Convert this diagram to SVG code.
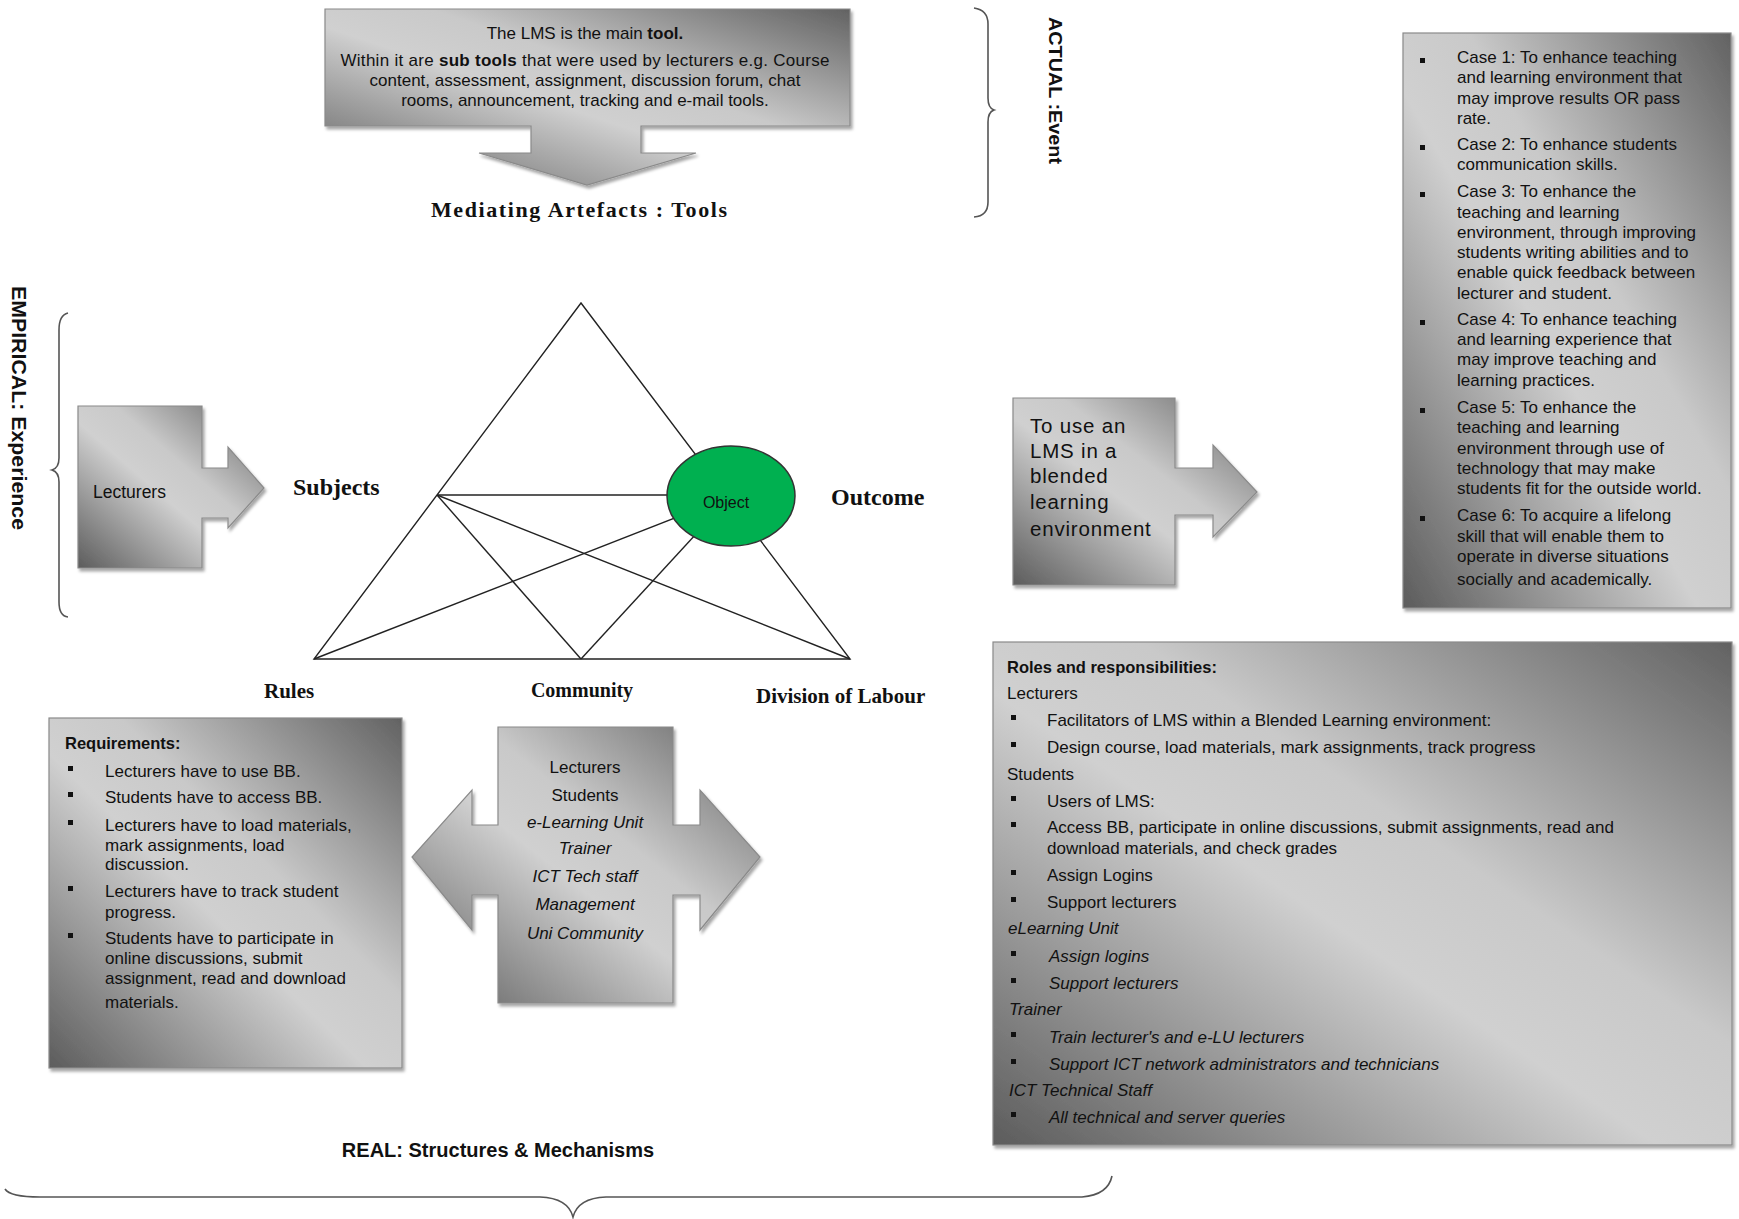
<svg xmlns="http://www.w3.org/2000/svg" width="1739" height="1219" viewBox="0 0 1739 1219">
<defs>
<linearGradient id="g" x1="0" y1="1" x2="1" y2="0">
<stop offset="0" stop-color="#5c5c5c"/>
<stop offset="0.45" stop-color="#d0d0d0"/>
<stop offset="0.6" stop-color="#c9c9c9"/>
<stop offset="1" stop-color="#626262"/>
</linearGradient>
<filter id="sh" x="-5%" y="-5%" width="115%" height="115%">
<feDropShadow dx="2" dy="3" stdDeviation="1.5" flood-color="#000" flood-opacity="0.35"/>
</filter>
<style>
.box{fill:url(#g);stroke:#8a8a8a;stroke-width:1.2;filter:url(#sh)}
.t{font-family:"Liberation Sans",Arial,sans-serif;font-size:17px;fill:#111}
.b{font-weight:bold}
.i{font-style:italic}
.s{font-family:"Liberation Serif","Times New Roman",serif;font-weight:bold;fill:#111}
.ln{stroke:#222;stroke-width:1.4;fill:none}
.br{stroke:#555;stroke-width:1.6;fill:none}
.bu{fill:#111}
</style>
</defs>
<rect width="1739" height="1219" fill="#fff"/>

<g id="connectors">
<polygon class="ln" points="581,303 314,659 850,659"/>
<line class="ln" x1="437" y1="495" x2="700" y2="495"/>
<line class="ln" x1="437" y1="495" x2="581" y2="659"/>
<line class="ln" x1="437" y1="495" x2="850" y2="659"/>
<line class="ln" x1="314" y1="659" x2="731" y2="496"/>
<line class="ln" x1="581" y1="659" x2="731" y2="496"/>
</g>

<g id="object">
<ellipse cx="731" cy="496" rx="64" ry="50" fill="#00b050" stroke="#333" stroke-width="1.5"/>
<text class="t" x="726" y="508" text-anchor="middle" style="font-size:16px">Object</text>
</g>

<g id="tool">
<path class="box" d="M325 9 H850 V126 H641 V153 H696 L587 185 L479 153 H531 V126 H325 Z"/>
<text class="t" x="585" y="39" text-anchor="middle">The LMS is the main <tspan class="b">tool.</tspan></text>
<text class="t" x="585" y="66" text-anchor="middle" textLength="489" lengthAdjust="spacing">Within it are <tspan class="b">sub tools</tspan> that were used by lecturers e.g. Course</text>
<text class="t" x="585" y="86" text-anchor="middle">content, assessment, assignment, discussion forum, chat</text>
<text class="t" x="585" y="106" text-anchor="middle">rooms, announcement, tracking and e-mail tools.</text>
</g>
<text class="s" x="579" y="217" text-anchor="middle" font-size="22" textLength="296" lengthAdjust="spacing">Mediating Artefacts : Tools</text>

<g id="actual">
<path class="br" d="M974 8 Q988 10 988 24 L988 98 Q988 108 994 110 Q988 112 988 122 L988 202 Q988 216 974 217"/>
<text class="t b" transform="translate(1049,17) rotate(90)" style="font-size:19px" textLength="147" lengthAdjust="spacingAndGlyphs">ACTUAL :Event</text>
</g>

<g id="empirical">
<path class="br" d="M68 313 Q59 315 59 330 L59 458 Q59 468 52 470 Q59 472 59 482 L59 602 Q59 616 68 617"/>
<text class="t" transform="translate(12,286) rotate(90)" style="font-size:21px;font-weight:bold" textLength="244" lengthAdjust="spacingAndGlyphs">EMPIRICAL: Experience</text>
</g>

<g id="lecturers">
<path class="box" d="M78 406 H202 V468 H228 V447 L264 488 L228 528 V518 H202 V568 H78 Z"/>
<text class="t" x="93" y="498" style="font-size:17.5px">Lecturers</text>
</g>

<text class="s" x="293" y="495" font-size="24">Subjects</text>
<text class="s" x="831" y="505" font-size="24">Outcome</text>
<text class="s" x="264" y="698" font-size="21">Rules</text>
<text class="s" x="582" y="697" font-size="20" text-anchor="middle">Community</text>
<text class="s" x="756" y="703" font-size="21">Division of Labour</text>

<g id="objective">
<path class="box" d="M1013 398 H1175 V468 H1213 V445 L1257 492 L1213 537 V515 H1175 V585 H1013 Z"/>
<g class="t" style="font-size:20.5px" letter-spacing="0.8">
<text x="1030" y="433">To use an</text>
<text x="1030" y="458">LMS in a</text>
<text x="1030" y="483">blended</text>
<text x="1030" y="509">learning</text>
<text x="1030" y="536">environment</text>
</g>
</g>

<g id="cases">
<rect class="box" x="1403" y="33" width="328" height="575"/>
<g class="bu">
<rect x="1420" y="58" width="5" height="5"/>
<rect x="1420" y="145" width="5" height="5"/>
<rect x="1420" y="192" width="5" height="5"/>
<rect x="1420" y="320" width="5" height="5"/>
<rect x="1420" y="408" width="5" height="5"/>
<rect x="1420" y="516" width="5" height="5"/>
</g>
<g class="t">
<text x="1457" y="63">Case 1: To enhance teaching</text>
<text x="1457" y="83">and learning environment that</text>
<text x="1457" y="104">may improve results OR pass</text>
<text x="1457" y="124">rate.</text>
<text x="1457" y="150">Case 2: To enhance students</text>
<text x="1457" y="170">communication  skills.</text>
<text x="1457" y="197">Case 3: To enhance the</text>
<text x="1457" y="218">teaching and learning</text>
<text x="1457" y="238">environment, through improving</text>
<text x="1457" y="258">students writing abilities and to</text>
<text x="1457" y="278">enable quick feedback between</text>
<text x="1457" y="299">lecturer and student.</text>
<text x="1457" y="325">Case 4: To enhance teaching</text>
<text x="1457" y="345">and learning experience that</text>
<text x="1457" y="365">may improve teaching and</text>
<text x="1457" y="386">learning practices.</text>
<text x="1457" y="413">Case 5: To enhance the</text>
<text x="1457" y="433">teaching and learning</text>
<text x="1457" y="454">environment through use of</text>
<text x="1457" y="474">technology that may make</text>
<text x="1457" y="494">students fit for the outside world.</text>
<text x="1457" y="521">Case 6: To acquire a lifelong</text>
<text x="1457" y="542">skill that will enable them to</text>
<text x="1457" y="562">operate in diverse situations</text>
<text x="1457" y="585">socially and academically.</text>
</g>
</g>

<g id="requirements">
<rect class="box" x="49" y="718" width="353" height="350"/>
<g class="bu">
<rect x="68" y="766" width="5" height="5"/>
<rect x="68" y="792" width="5" height="5"/>
<rect x="68" y="820" width="5" height="5"/>
<rect x="68" y="886" width="5" height="5"/>
<rect x="68" y="933" width="5" height="5"/>
</g>
<g class="t">
<text class="b" x="65" y="749" style="font-size:16.5px">Requirements:</text>
<text x="105" y="777">Lecturers have to use BB.</text>
<text x="105" y="803">Students have to access BB.</text>
<text x="105" y="831">Lecturers have to load materials,</text>
<text x="105" y="851">mark  assignments, load</text>
<text x="105" y="870">discussion.</text>
<text x="105" y="897">Lecturers have to track student</text>
<text x="105" y="918">progress.</text>
<text x="105" y="944">Students have to participate in</text>
<text x="105" y="964">online discussions, submit</text>
<text x="105" y="984">assignment, read and download</text>
<text x="105" y="1008">materials.</text>
</g>
</g>

<g id="community">
<path class="box" d="M498 727 H673 V825 H700 V790 L760 857 L700 930 V895 H673 V1003 H498 V895 H472 V930 L412 857 L472 790 V825 H498 Z"/>
<g class="t" text-anchor="middle">
<text x="585" y="773">Lecturers</text>
<text x="585" y="801">Students</text>
<text class="i" x="585" y="828">e-Learning Unit</text>
<text class="i" x="585" y="854">Trainer</text>
<text class="i" x="585" y="882">ICT Tech staff</text>
<text class="i" x="585" y="910">Management</text>
<text class="i" x="585" y="939">Uni Community</text>
</g>
</g>

<g id="roles">
<rect class="box" x="993" y="642" width="739" height="503"/>
<g class="bu">
<rect x="1011" y="715" width="5" height="5"/>
<rect x="1011" y="742" width="5" height="5"/>
<rect x="1011" y="796" width="5" height="5"/>
<rect x="1011" y="822" width="5" height="5"/>
<rect x="1011" y="870" width="5" height="5"/>
<rect x="1011" y="897" width="5" height="5"/>
<rect x="1011" y="951" width="5" height="5"/>
<rect x="1011" y="978" width="5" height="5"/>
<rect x="1011" y="1032" width="5" height="5"/>
<rect x="1011" y="1059" width="5" height="5"/>
<rect x="1011" y="1112" width="5" height="5"/>
</g>
<g class="t">
<text class="b" x="1007" y="673" style="font-size:16.5px">Roles and responsibilities:</text>
<text x="1007" y="699">Lecturers</text>
<text x="1047" y="726">Facilitators of LMS within a Blended  Learning environment:</text>
<text x="1047" y="753">Design course, load materials,  mark assignments, track progress</text>
<text x="1007" y="780">Students</text>
<text x="1047" y="807">Users of LMS:</text>
<text x="1047" y="833">Access BB, participate in online discussions, submit assignments, read and</text>
<text x="1047" y="854">download materials, and check grades</text>
<text x="1047" y="881">Assign Logins</text>
<text x="1047" y="908">Support lecturers</text>
<text class="i" x="1008" y="934">eLearning Unit</text>
<text class="i" x="1049" y="962">Assign logins</text>
<text class="i" x="1049" y="989">Support lecturers</text>
<text class="i" x="1009" y="1015">Trainer</text>
<text class="i" x="1049" y="1043">Train lecturer's and e-LU lecturers</text>
<text class="i" x="1049" y="1070">Support ICT network  administrators and technicians</text>
<text class="i" x="1009" y="1096">ICT Technical Staff</text>
<text class="i" x="1049" y="1123">All technical and server queries</text>
</g>
</g>

<g id="real">
<text class="t b" x="498" y="1157" text-anchor="middle" style="font-size:20px">REAL:  Structures &amp; Mechanisms</text>
<path class="br" d="M5 1189 Q10 1197 40 1197 L540 1197 Q568 1198 573 1217 Q578 1198 606 1197 L1082 1197 Q1108 1195 1112 1176"/>
</g>
</svg>
